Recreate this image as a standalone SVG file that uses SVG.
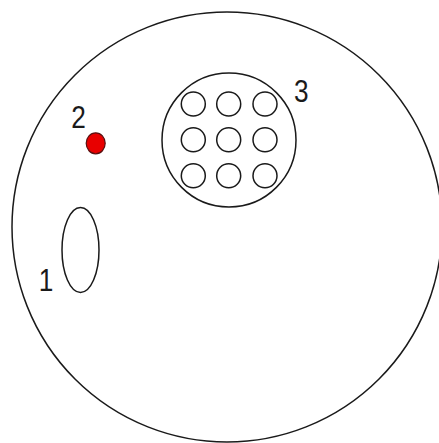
<svg xmlns="http://www.w3.org/2000/svg" width="439" height="443" viewBox="0 0 439 443">
<style>
.s{fill:none;stroke:#1a1a1a;stroke-width:1.5}
.t{font-family:"Liberation Sans",Arial,sans-serif;font-size:30.5px;fill:#1a1a1a}
</style>
<rect width="439" height="443" fill="#fff"/>
<g id="outer"><circle class="s" cx="227" cy="227" r="215"/></g>
<g id="node1"><ellipse class="s" cx="80.5" cy="250" rx="18.5" ry="42.5"/><text class="t" transform="translate(38.8,290.5) scale(0.86,1)">1</text></g>
<g id="node2"><ellipse cx="95.7" cy="143.3" rx="9.5" ry="10.5" fill="#e80000" stroke="#5a1010" stroke-width="1.2"/><text class="t" transform="translate(71.2,128.2) scale(0.86,1)">2</text></g>
<g id="node3">
<circle class="s" cx="229" cy="140" r="67"/>
<circle class="s" cx="193.3" cy="104" r="12"/>
<circle class="s" cx="228.7" cy="104" r="12"/>
<circle class="s" cx="265" cy="104" r="12"/>
<circle class="s" cx="193.3" cy="139.7" r="12"/>
<circle class="s" cx="228.7" cy="139.7" r="12"/>
<circle class="s" cx="265" cy="139.7" r="12"/>
<circle class="s" cx="193.3" cy="175.8" r="12"/>
<circle class="s" cx="228.7" cy="175.8" r="12"/>
<circle class="s" cx="265" cy="175.8" r="12"/>
<text class="t" transform="translate(294,101.7) scale(0.86,1)">3</text>
</g>
<g id="connectors"/>
</svg>
